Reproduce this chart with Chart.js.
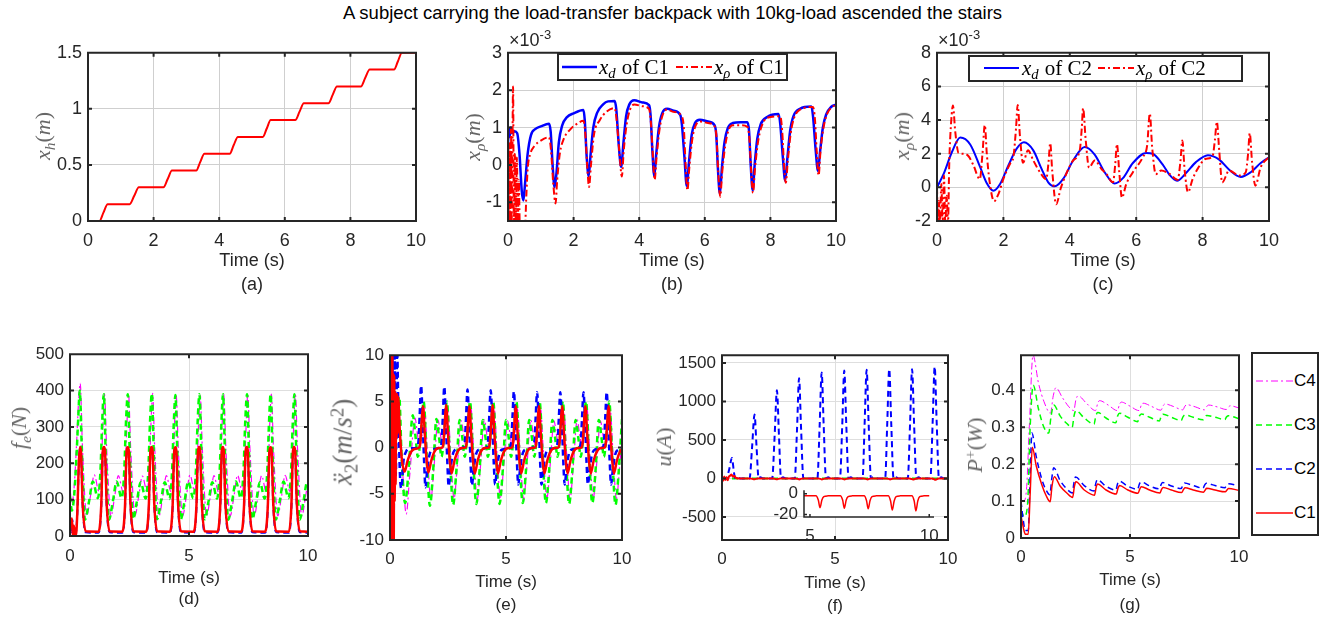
<!DOCTYPE html>
<html>
<head>
<meta charset="utf-8">
<title>Load-transfer backpack, stairs</title>
<script src="https://cdn.jsdelivr.net/npm/chart.js@4.4.1/dist/chart.umd.min.js"></script>
<style>
body { margin:0; background:#fff; width:1340px; height:623px; position:relative; overflow:hidden; font-family:"Liberation Sans", Arial, sans-serif; }
canvas { position:absolute; }
.ttl { position:absolute; left:0; width:1345px; top:2px; text-align:center; font-size:18.5px; line-height:22px; color:#000; }
.yl { position:absolute; transform:translate(-50%,-50%) rotate(-90deg); white-space:nowrap; font-family:"Liberation Serif", serif; font-size:22px; color:#666; line-height:1; }
.sb { font-size:70%; position:relative; top:0.3em; }
.sp { font-size:70%; position:relative; top:-0.45em; }
.exp { position:absolute; font-size:18px; color:#262626; line-height:20px; white-space:nowrap; }
.leg { position:absolute; box-sizing:border-box; border:2px solid #262626; background:#fff; }
.leg span { position:absolute; white-space:nowrap; }
.leg span span { position:relative; }
.leg svg { position:absolute; left:0; top:0; }
.lserif { font-family:"Liberation Serif", serif; font-size:21px; color:#000; }
.lsans { font-size:17px; color:#000; }
.gap { margin-left:6px; }
</style>
</head>
<body>
<div class="ttl">A subject carrying the load-transfer backpack with 10kg-load ascended the stairs</div>
<script>
// ---- data ----
// (a) x_h
const xhA = [[0,0],[0.35,0],[0.47,0.075],[0.6,0.15],[1.27,0.15],[1.41,0.225],[1.55,0.3],[2.3,0.3],[2.43,0.375],[2.56,0.45],
  [3.3,0.45],[3.42,0.525],[3.55,0.6],[4.32,0.6],[4.44,0.675],[4.57,0.75],[5.33,0.75],[5.45,0.825],[5.57,0.9],[6.32,0.9],
  [6.45,0.975],[6.58,1.05],[7.33,1.05],[7.46,1.125],[7.59,1.2],[8.32,1.2],[8.45,1.275],[8.59,1.35],[9.33,1.35],[9.45,1.425],[9.57,1.5],[10,1.5]];

// (b) C1, values in 1e-3 m
const xdC1 = [[0,0.5],[0.02,1.0],[0.05,0.75],[0.08,1.0],[0.12,0.85],[0.2,0.9],[0.28,0.85],[0.35,0.3],[0.42,-0.7],[0.47,-0.95],[0.52,-0.5],
  [0.6,0.3],[0.7,0.8],[0.85,0.97],[1.0,1.03],[1.25,1.1],[1.3,0.9],[1.36,0.0],[1.42,-0.6],[1.48,-0.2],[1.55,0.6],[1.65,1.05],[1.8,1.28],
  [2.0,1.38],[2.3,1.47],[2.34,1.2],[2.4,0.2],[2.46,-0.3],[2.52,0.3],[2.6,1.0],[2.72,1.4],[2.9,1.62],[3.05,1.7],[3.25,1.71],[3.3,1.5],
  [3.38,0.5],[3.45,-0.05],[3.52,0.6],[3.6,1.3],[3.7,1.62],[3.85,1.73],[4.1,1.67],[4.3,1.6],[4.35,1.3],[4.4,0.4],[4.46,-0.3],[4.52,0.3],
  [4.6,1.0],[4.7,1.38],[4.85,1.5],[5.05,1.45],[5.25,1.34],[5.3,1.1],[5.38,0.2],[5.45,-0.56],[5.52,0.1],[5.6,0.8],[5.7,1.12],[5.85,1.21],
  [6.1,1.16],[6.3,1.06],[6.35,0.8],[6.4,-0.1],[6.46,-0.77],[6.52,-0.1],[6.6,0.6],[6.7,0.98],[6.85,1.12],[7.1,1.14],[7.3,1.14],[7.35,0.9],
  [7.4,0.0],[7.46,-0.68],[7.52,0.0],[7.6,0.7],[7.7,1.08],[7.9,1.28],[8.25,1.36],[8.3,1.1],[8.38,0.2],[8.45,-0.42],[8.52,0.2],[8.6,0.9],
  [8.7,1.3],[8.9,1.5],[9.25,1.56],[9.3,1.3],[9.38,0.4],[9.45,-0.16],[9.52,0.4],[9.6,1.0],[9.7,1.35],[9.85,1.55],[10,1.61]];
const xrC1 = [[0,0],[0.02,-1.6],[0.04,0.6],[0.06,-1.6],[0.09,1.0],[0.11,-1.6],[0.13,0.0],[0.155,2.1],[0.18,-1.6],[0.21,0.3],[0.24,-1.6],
  [0.27,0.2],[0.3,-1.6],[0.33,-0.4],[0.36,-1.6],[0.45,-1.6],[0.52,-1.6],[0.56,-0.8],[0.6,-0.1],[0.68,0.3],[0.8,0.5],[1.0,0.65],[1.25,0.74],
  [1.31,0.4],[1.38,-0.5],[1.45,-1.03],[1.5,-0.4],[1.58,0.3],[1.7,0.7],[1.9,0.95],[2.1,1.1],[2.3,1.18],[2.36,0.8],[2.42,-0.1],[2.47,-0.59],
  [2.53,0.0],[2.62,0.8],[2.8,1.2],[3.0,1.42],[3.25,1.52],[3.3,1.3],[3.4,0.3],[3.47,-0.31],[3.53,0.4],[3.62,1.1],[3.72,1.48],[3.85,1.62],
  [4.1,1.57],[4.3,1.5],[4.36,1.1],[4.42,0.2],[4.47,-0.4],[4.53,0.2],[4.62,0.95],[4.72,1.35],[4.85,1.48],[5.05,1.42],[5.3,1.3],[5.36,1.0],
  [5.41,0.1],[5.47,-0.68],[5.53,-0.05],[5.62,0.7],[5.72,1.05],[5.87,1.16],[6.1,1.12],[6.3,1.03],[6.36,0.7],[6.41,-0.2],[6.47,-0.85],
  [6.53,-0.2],[6.62,0.5],[6.72,0.92],[6.85,1.06],[7.1,1.06],[7.3,1.02],[7.36,0.7],[7.41,-0.1],[7.47,-0.75],[7.53,-0.1],[7.62,0.6],
  [7.72,1.0],[7.9,1.26],[8.3,1.3],[8.36,0.9],[8.41,0.1],[8.47,-0.48],[8.53,0.1],[8.62,0.85],[8.72,1.25],[8.9,1.48],[9.3,1.55],[9.36,1.2],
  [9.41,0.4],[9.47,-0.28],[9.53,0.4],[9.62,1.0],[9.72,1.35],[9.88,1.55],[10,1.6]];

// (c) C2, values in 1e-3 m
const xdC2 = [[0,0],[0.2,0.8],[0.45,2.1],[0.7,2.96],[1.0,2.55],[1.3,1.2],[1.5,0.25],[1.7,-0.2],[1.9,0.2],[2.15,1.3],[2.4,2.3],[2.62,2.68],
  [2.9,2.2],[3.15,1.1],[3.35,0.3],[3.55,0.06],[3.8,0.5],[4.1,1.6],[4.45,2.4],[4.75,1.95],[5.05,0.9],[5.35,0.23],[5.6,0.55],[5.9,1.45],
  [6.3,2.05],[6.5,2.0],[6.8,1.35],[7.0,0.75],[7.23,0.39],[7.5,0.85],[7.8,1.5],[8.16,1.91],[8.5,1.65],[8.8,1.05],[9.15,0.62],[9.45,0.9],[9.75,1.45],[10,1.79]];
const xrC2 = [[0,0],[0.03,-2.2],[0.06,-0.8],[0.09,-2.2],[0.13,0.2],[0.17,-2.2],[0.21,0.7],[0.25,-2.2],[0.29,-0.5],[0.33,-2.2],[0.37,1.5],
  [0.43,4.0],[0.48,4.87],[0.55,3.3],[0.65,2.05],[0.8,2.0],[0.95,1.85],[1.1,1.3],[1.29,0.49],[1.37,2.0],[1.44,3.7],[1.5,2.0],[1.58,0.4],
  [1.72,-0.82],[1.85,-0.4],[2.0,0.5],[2.2,1.4],[2.3,1.8],[2.38,3.5],[2.43,4.9],[2.5,3.0],[2.59,1.46],[2.74,2.2],[2.9,1.6],[3.1,0.9],
  [3.29,0.49],[3.36,1.5],[3.41,2.63],[3.47,1.0],[3.59,-1.01],[3.72,-0.1],[3.85,0.6],[4.1,1.6],[4.3,2.2],[4.36,3.5],[4.4,4.7],[4.48,2.8],
  [4.58,1.17],[4.75,1.6],[4.95,1.1],[5.1,0.8],[5.3,0.3],[5.37,1.4],[5.42,2.57],[5.49,0.9],[5.57,-0.62],[5.7,0.2],[5.9,0.9],[6.2,1.8],
  [6.33,2.5],[6.41,4.39],[6.48,2.4],[6.59,0.78],[6.75,1.0],[7.0,0.8],[7.25,0.45],[7.33,1.5],[7.39,2.79],[7.46,1.0],[7.56,-0.29],[7.7,0.5],
  [7.85,1.1],[8.1,1.7],[8.3,1.85],[8.37,2.8],[8.43,3.9],[8.5,2.2],[8.59,0.29],[8.8,1.0],[9.1,0.7],[9.3,0.9],[9.37,2.0],[9.42,3.22],
  [9.49,1.5],[9.59,0.1],[9.75,1.2],[10,1.8]];

// (d) f_e (N)
const feC1 = [[0,50],[0.04,25],[0.08,48],[0.12,0],[0.16,28],[0.2,8],[0.25,2],[0.31,70],[0.37,200],[0.42,245],[0.46,235],[0.53,90],[0.66,13],
  [1.2,12],[1.31,80],[1.38,235],[1.43,245],[1.47,235],[1.54,90],[1.66,13],[2.2,12],[2.31,80],[2.38,235],[2.43,244],[2.47,234],[2.54,90],[2.66,13],
  [3.2,12],[3.31,80],[3.38,235],[3.43,245],[3.47,235],[3.54,90],[3.66,13],[4.2,12],[4.31,80],[4.38,234],[4.43,244],[4.47,234],[4.54,90],[4.66,13],
  [5.2,12],[5.31,80],[5.38,235],[5.43,245],[5.47,235],[5.54,90],[5.66,13],[6.2,12],[6.31,80],[6.38,235],[6.42,245],[6.46,235],[6.53,90],[6.66,13],
  [7.2,12],[7.31,80],[7.38,235],[7.43,245],[7.47,235],[7.54,90],[7.66,13],[8.2,12],[8.31,80],[8.38,234],[8.43,244],[8.47,234],[8.54,90],[8.66,13],
  [9.2,12],[9.3,80],[9.37,235],[9.42,245],[9.46,235],[9.53,90],[9.66,13],[10,12]];
const feC2 = [[0,40],[0.05,10],[0.1,45],[0.15,5],[0.22,3],[0.31,65],[0.37,195],[0.42,240],[0.46,230],[0.53,85],[0.66,10],
  [1.2,9],[1.31,72],[1.38,228],[1.43,240],[1.47,228],[1.54,84],[1.66,10],[2.2,9],[2.31,72],[2.38,228],[2.43,240],[2.47,228],[2.54,84],[2.66,10],
  [3.2,9],[3.31,72],[3.38,228],[3.43,240],[3.47,228],[3.54,84],[3.66,10],[4.2,9],[4.31,72],[4.38,228],[4.43,239],[4.47,228],[4.54,84],[4.66,10],
  [5.2,9],[5.31,72],[5.38,228],[5.43,240],[5.47,228],[5.54,84],[5.66,10],[6.2,9],[6.31,72],[6.38,228],[6.42,240],[6.46,228],[6.53,84],[6.66,10],
  [7.2,9],[7.31,72],[7.38,228],[7.43,240],[7.47,228],[7.54,84],[7.66,10],[8.2,9],[8.31,72],[8.38,228],[8.43,239],[8.47,228],[8.54,84],[8.66,10],
  [9.2,9],[9.3,72],[9.37,228],[9.42,240],[9.46,228],[9.53,84],[9.66,10],[10,9]];
const feC3 = [[0,110],[0.08,70],[0.18,115],[0.28,230],[0.35,330],[0.41,400],[0.5,230],[0.63,45],[0.8,95],[0.96,150],[1.17,104],[1.28,180],[1.35,310],[1.42,390],
  [1.5,230],[1.64,45],[1.8,95],[1.96,150],[2.17,104],[2.28,180],[2.35,310],[2.43,390],
  [2.51,230],[2.65,46],[2.81,95],[2.97,148],[3.18,103],[3.29,180],[3.36,310],[3.44,392],
  [3.52,230],[3.66,46],[3.82,95],[3.98,148],[4.18,102],[4.29,180],[4.36,310],[4.43,388],
  [4.51,230],[4.65,45],[4.81,95],[4.97,150],[5.18,104],[5.29,180],[5.36,310],[5.44,390],
  [5.52,230],[5.66,46],[5.82,95],[5.98,148],[6.18,103],[6.29,180],[6.36,310],[6.43,390],
  [6.51,230],[6.65,45],[6.81,95],[6.97,150],[7.18,104],[7.29,180],[7.36,310],[7.44,390],
  [7.52,230],[7.66,46],[7.82,95],[7.98,148],[8.18,103],[8.29,180],[8.36,310],[8.43,390],
  [8.51,230],[8.65,45],[8.81,95],[8.97,150],[9.18,104],[9.29,180],[9.36,310],[9.43,390],
  [9.51,230],[9.65,45],[9.81,95],[9.97,150],[10,149]];
const feC4 = [[0,130],[0.08,90],[0.18,140],[0.28,260],[0.36,370],[0.43,420],[0.52,250],[0.7,55],[0.86,110],[1.02,168],[1.22,122],[1.32,200],[1.39,320],[1.45,390],
  [1.54,240],[1.72,55],[1.88,110],[2.03,166],[2.23,122],[2.33,200],[2.4,320],[2.46,390],
  [2.55,240],[2.73,56],[2.89,110],[3.04,165],[3.24,121],[3.34,200],[3.41,320],[3.47,392],
  [3.56,240],[3.74,55],[3.9,110],[4.05,166],[4.24,122],[4.34,200],[4.4,320],[4.46,388],
  [4.55,240],[4.73,55],[4.89,110],[5.04,168],[5.24,122],[5.34,200],[5.41,320],[5.47,390],
  [5.56,240],[5.74,56],[5.9,110],[6.05,166],[6.24,121],[6.34,200],[6.4,320],[6.46,390],
  [6.55,240],[6.73,55],[6.89,110],[7.04,167],[7.24,122],[7.34,200],[7.41,320],[7.47,390],
  [7.56,240],[7.74,55],[7.9,110],[8.05,166],[8.24,122],[8.34,200],[8.4,320],[8.46,390],
  [8.55,240],[8.73,55],[8.89,110],[9.04,167],[9.24,122],[9.34,200],[9.41,320],[9.47,388],
  [9.56,240],[9.74,55],[9.9,110],[10,150]];

// (e) x2 acceleration (m/s^2)
const acC1 = [[0,0],[0.02,10.5],[0.04,-10.5],[0.06,10.5],[0.08,-10.5],[0.1,10.5],[0.12,-10.5],[0.14,8],[0.16,-10.5],[0.18,7.8],[0.2,-5.8],
  [0.22,6],[0.24,-4],[0.26,5.8],[0.28,1],[0.3,5.8],[0.32,1.5],[0.35,5.5],[0.42,2],[0.5,-1],[0.63,-2.6],[0.75,-1.5],[0.9,-0.5],[1.05,-0.15],[1.25,0],
  [1.3,0.4],[1.36,2.6],[1.42,4.5],[1.5,1.5],[1.58,-1.5],[1.65,-2.7],[1.78,-1.4],[1.92,-0.4],[2.1,-0.05],[2.25,0],
  [2.3,0.4],[2.36,2.6],[2.42,4.6],[2.5,1.5],[2.58,-1.5],[2.65,-2.8],[2.78,-1.4],[2.92,-0.4],[3.1,-0.05],[3.25,0],
  [3.3,0.4],[3.36,2.6],[3.42,4.5],[3.5,1.5],[3.58,-1.5],[3.65,-2.8],[3.78,-1.4],[3.92,-0.4],[4.1,-0.05],[4.25,0],
  [4.3,0.4],[4.36,2.6],[4.42,4.6],[4.5,1.5],[4.58,-1.5],[4.65,-2.8],[4.78,-1.4],[4.92,-0.4],[5.1,-0.05],[5.25,0],
  [5.3,0.4],[5.36,2.6],[5.42,4.5],[5.5,1.5],[5.58,-1.5],[5.65,-2.8],[5.78,-1.4],[5.92,-0.4],[6.1,-0.05],[6.25,0],
  [6.3,0.4],[6.36,2.6],[6.42,4.5],[6.5,1.5],[6.58,-1.5],[6.65,-2.8],[6.78,-1.4],[6.92,-0.4],[7.1,-0.05],[7.25,0],
  [7.3,0.4],[7.36,2.6],[7.42,4.5],[7.5,1.5],[7.58,-1.5],[7.65,-2.8],[7.78,-1.4],[7.92,-0.4],[8.1,-0.05],[8.25,0],
  [8.3,0.4],[8.36,2.6],[8.42,4.5],[8.5,1.5],[8.58,-1.5],[8.65,-2.8],[8.78,-1.4],[8.92,-0.4],[9.1,-0.05],[9.25,0],
  [9.3,0.4],[9.36,2.6],[9.42,4.5],[9.5,1.5],[9.58,-1.5],[9.65,-2.8],[9.78,-1.4],[9.92,-0.4],[10,-0.2]];
const acC2 = [[0,0],[0.05,-10.5],[0.1,10.5],[0.15,-10.5],[0.2,10.5],[0.25,-3],[0.31,10.5],[0.36,4],[0.43,-3],[0.49,-4.4],[0.58,-1.5],[0.7,-0.4],[0.85,-0.1],[1.15,0],
  [1.22,0.5],[1.28,3.5],[1.34,6.7],[1.4,3.5],[1.47,-1.5],[1.53,-4.3],[1.6,-2.5],[1.7,-0.8],[1.85,-0.2],[2.15,0],
  [2.22,0.5],[2.28,3.5],[2.34,6.6],[2.4,3.5],[2.47,-1.5],[2.53,-4.2],[2.6,-2.5],[2.7,-0.8],[2.85,-0.2],[3.15,0],
  [3.22,0.5],[3.28,3.4],[3.34,6.3],[3.4,3.4],[3.47,-1.5],[3.53,-4.1],[3.6,-2.5],[3.7,-0.8],[3.85,-0.2],[4.15,0],
  [4.22,0.5],[4.28,3.4],[4.34,6.2],[4.4,3.4],[4.47,-1.5],[4.53,-4.0],[4.6,-2.5],[4.7,-0.8],[4.85,-0.2],[5.15,0],
  [5.22,0.5],[5.28,3.3],[5.34,6.1],[5.4,3.3],[5.47,-1.5],[5.53,-4.0],[5.6,-2.5],[5.7,-0.8],[5.85,-0.2],[6.15,0],
  [6.22,0.5],[6.28,3.3],[6.34,6.0],[6.4,3.3],[6.47,-1.5],[6.53,-4.0],[6.6,-2.5],[6.7,-0.8],[6.85,-0.2],[7.15,0],
  [7.22,0.5],[7.28,3.3],[7.34,6.0],[7.4,3.3],[7.47,-1.5],[7.53,-4.0],[7.6,-2.5],[7.7,-0.8],[7.85,-0.2],[8.15,0],
  [8.22,0.5],[8.28,3.3],[8.34,6.0],[8.4,3.3],[8.47,-1.5],[8.53,-4.0],[8.6,-2.5],[8.7,-0.8],[8.85,-0.2],[9.15,0],
  [9.22,0.5],[9.28,3.3],[9.34,6.0],[9.4,3.3],[9.47,-1.5],[9.53,-4.0],[9.6,-2.5],[9.7,-0.8],[9.85,-0.2],[10,-0.1]];
const acC3 = [[0,0],[0.1,-3],[0.2,2],[0.3,4],[0.4,5.5],[0.5,-1],[0.65,-6],[0.8,-2.5],[0.98,3.5],[1.1,1.2],[1.2,-1],
  [1.32,1],[1.45,5],[1.58,-1],[1.72,-6.3],[1.86,-2.5],[2.0,3.1],[2.12,1],[2.22,-1],
  [2.32,1],[2.45,5],[2.58,-1],[2.72,-6.2],[2.86,-2.5],[3.0,3.0],[3.12,1],[3.22,-1],
  [3.32,1],[3.45,5],[3.58,-1],[3.72,-6.1],[3.86,-2.5],[4.0,3.0],[4.12,1],[4.22,-1],
  [4.32,1],[4.45,5],[4.58,-1],[4.72,-6.1],[4.86,-2.5],[5.0,3.0],[5.12,1],[5.22,-1],
  [5.32,1],[5.45,5],[5.58,-1],[5.72,-6.0],[5.86,-2.5],[6.0,3.0],[6.12,1],[6.22,-1],
  [6.32,1],[6.45,5],[6.58,-1],[6.72,-6.0],[6.86,-2.5],[7.0,3.0],[7.12,1],[7.22,-1],
  [7.32,1],[7.45,5],[7.58,-1],[7.72,-6.1],[7.86,-2.5],[8.0,3.0],[8.12,1],[8.22,-1],
  [8.32,1],[8.45,5],[8.58,-1],[8.72,-6.0],[8.86,-2.5],[9.0,3.0],[9.12,1],[9.22,-1],
  [9.32,1],[9.45,5],[9.58,-1],[9.72,-6.2],[9.86,-2.5],[10,3.1]];
const acC4 = [[0,0],[0.1,2],[0.2,3.5],[0.32,5],[0.45,2],[0.58,-4],[0.7,-7.2],[0.85,-3],[1.08,3.2],[1.18,1.5],[1.27,0.2],
  [1.37,1],[1.49,4.4],[1.62,-1],[1.76,-5.6],[1.9,-2],[2.07,3.0],[2.17,1.5],[2.27,0.2],
  [2.37,1],[2.49,4.3],[2.62,-1],[2.76,-5.5],[2.9,-2],[3.07,2.9],[3.17,1.5],[3.27,0.2],
  [3.37,1],[3.49,4.3],[3.62,-1],[3.76,-5.6],[3.9,-2],[4.07,3.0],[4.17,1.5],[4.27,0.2],
  [4.37,1],[4.49,4.3],[4.62,-1],[4.76,-5.5],[4.9,-2],[5.07,2.9],[5.17,1.5],[5.27,0.2],
  [5.37,1],[5.49,4.2],[5.62,-1],[5.76,-5.6],[5.9,-2],[6.07,3.0],[6.17,1.5],[6.27,0.2],
  [6.37,1],[6.49,4.2],[6.62,-1],[6.76,-5.5],[6.9,-2],[7.07,2.9],[7.17,1.5],[7.27,0.2],
  [7.37,1],[7.49,4.2],[7.62,-1],[7.76,-5.6],[7.9,-2],[8.07,3.0],[8.17,1.5],[8.27,0.2],
  [8.37,1],[8.49,4.2],[8.62,-1],[8.76,-5.5],[8.9,-2],[9.07,2.9],[9.17,1.5],[9.27,0.2],
  [9.37,1],[9.49,4.2],[9.62,-1],[9.76,-5.5],[9.9,-2],[10,1]];

// (f) u (A)
const uC1 = [[0,0],[0.05,-30],[0.1,25],[0.15,-20],[0.2,15],[0.25,-25],[0.3,20],[0.36,35],[0.42,50],[0.48,25],[0.55,30],[0.62,5],[0.8,-2],
  [1.25,-1.8],[1.35,-6],[1.42,-12],[1.5,-6],[1.58,-2.8],[1.75,-2],[2.25,-1.8],[2.35,-6],[2.42,-12.5],[2.5,-6],[2.58,-2.8],[2.75,-2],
  [3.25,-1.8],[3.35,-6],[3.42,-13],[3.5,-6],[3.58,-2.8],[3.75,-2],[4.25,-1.8],[4.35,-6],[4.42,-13],[4.5,-6],[4.58,-2.8],[4.75,-2],
  [5.25,-1.8],[5.35,-6],[5.42,-13.4],[5.5,-6],[5.58,-2.8],[5.75,-2],[6.27,-1.8],[6.37,-6],[6.44,-14],[6.52,-6],[6.6,-2.8],[6.77,-2],
  [7.27,-1.8],[7.37,-6.5],[7.44,-14.5],[7.52,-6.5],[7.6,-2.8],[7.77,-2],[8.28,-1.8],[8.38,-7],[8.45,-15.8],[8.53,-7],[8.61,-2.8],[8.78,-2],
  [9.27,-1.8],[9.37,-7],[9.44,-16.6],[9.52,-7],[9.6,-2.8],[9.77,-2],[10,-1.9]];
const uC2 = [[0,0],[0.2,5],[0.32,120],[0.44,265],[0.52,100],[0.58,0],[0.7,10],[0.8,0],
  [1.22,0],[1.33,400],[1.44,830],[1.53,400],[1.62,0],[1.7,15],[1.8,0],
  [2.22,0],[2.33,560],[2.43,1145],[2.52,560],[2.61,0],[2.7,15],[2.8,0],
  [3.22,0],[3.32,640],[3.41,1300],[3.5,640],[3.6,0],[3.7,15],[3.8,0],
  [4.22,0],[4.32,680],[4.41,1375],[4.5,680],[4.6,0],[4.7,15],[4.8,0],
  [5.22,0],[5.32,690],[5.41,1400],[5.5,690],[5.6,0],[5.7,15],[5.8,0],
  [6.22,0],[6.31,700],[6.4,1410],[6.49,700],[6.59,0],[6.7,15],[6.8,0],
  [7.22,0],[7.31,700],[7.4,1420],[7.49,700],[7.59,0],[7.7,15],[7.8,0],
  [8.22,0],[8.32,700],[8.41,1418],[8.5,700],[8.6,0],[8.7,15],[8.8,0],
  [9.22,0],[9.32,720],[9.41,1450],[9.5,720],[9.6,0],[9.7,15],[9.8,0],[10,0]];
const uC3 = [[0,0],[10,0]];
const uC4 = [[0,0],[10,0]];

// (g) P+ (W)
const pC1 = [[0,0.06],[0.1,0.03],[0.2,0.01],[0.33,0.01],[0.42,0.12],[0.52,0.246],[0.7,0.195],[0.95,0.145],[1.15,0.115],[1.34,0.098],
  [1.42,0.14],[1.53,0.166],[1.8,0.14],[2.1,0.122],[2.37,0.11],[2.45,0.14],[2.52,0.152],[2.9,0.13],[3.37,0.116],[3.45,0.138],[3.51,0.146],
  [3.9,0.13],[4.37,0.119],[4.45,0.135],[4.52,0.142],[4.9,0.13],[5.37,0.121],[5.45,0.133],[5.52,0.139],[5.9,0.13],[6.37,0.122],[6.45,0.132],
  [6.52,0.137],[6.9,0.13],[7.37,0.123],[7.45,0.131],[7.52,0.136],[7.9,0.13],[8.37,0.124],[8.45,0.13],[8.52,0.135],[8.9,0.13],[9.37,0.125],
  [9.45,0.13],[9.52,0.134],[10,0.129]];
const pC2 = [[0,0.1],[0.1,0.05],[0.2,0.02],[0.33,0.02],[0.42,0.17],[0.5,0.284],[0.7,0.22],[0.95,0.16],[1.15,0.13],[1.32,0.117],[1.42,0.165],
  [1.5,0.19],[1.8,0.155],[2.1,0.133],[2.35,0.122],[2.43,0.15],[2.5,0.165],[2.9,0.142],[3.35,0.127],[3.43,0.148],[3.5,0.158],[3.9,0.14],
  [4.35,0.13],[4.43,0.147],[4.5,0.154],[4.9,0.14],[5.35,0.132],[5.43,0.146],[5.5,0.152],[5.9,0.141],[6.35,0.133],[6.43,0.145],[6.5,0.15],
  [6.9,0.141],[7.35,0.134],[7.43,0.144],[7.5,0.149],[7.9,0.142],[8.35,0.135],[8.43,0.144],[8.5,0.148],[8.9,0.142],[9.35,0.136],[9.43,0.143],
  [9.5,0.147],[10,0.141]];
const pC3 = [[0,0.075],[0.15,0.058],[0.3,0.09],[0.42,0.3],[0.56,0.414],[0.8,0.35],[1.05,0.3],[1.27,0.284],[1.38,0.33],[1.5,0.36],[1.8,0.33],
  [2.1,0.31],[2.35,0.3],[2.43,0.33],[2.52,0.345],[2.9,0.325],[3.35,0.308],[3.43,0.33],[3.52,0.34],[3.9,0.325],[4.35,0.312],[4.43,0.33],
  [4.52,0.338],[4.9,0.327],[5.35,0.315],[5.43,0.33],[5.52,0.336],[5.9,0.327],[6.35,0.317],[6.43,0.329],[6.52,0.335],[6.9,0.327],[7.35,0.318],
  [7.43,0.328],[7.52,0.333],[7.9,0.327],[8.35,0.32],[8.43,0.328],[8.52,0.332],[8.9,0.327],[9.35,0.321],[9.43,0.328],[9.52,0.331],[10,0.323]];
const pC4 = [[0,0.1],[0.12,0.1],[0.25,0.13],[0.38,0.3],[0.55,0.495],[0.8,0.42],[1.05,0.37],[1.35,0.338],[1.48,0.385],[1.6,0.407],[1.9,0.38],
  [2.2,0.355],[2.42,0.345],[2.52,0.375],[2.62,0.385],[3.0,0.365],[3.42,0.345],[3.52,0.365],[3.6,0.372],[4.0,0.36],[4.42,0.345],[4.52,0.362],
  [4.6,0.368],[5.0,0.357],[5.42,0.345],[5.52,0.36],[5.6,0.365],[6.0,0.356],[6.42,0.346],[6.52,0.358],[6.6,0.363],[7.0,0.356],[7.42,0.347],
  [7.52,0.357],[7.6,0.361],[8.0,0.355],[8.42,0.347],[8.52,0.356],[8.6,0.36],[9.0,0.355],[9.42,0.348],[9.52,0.355],[9.6,0.358],[10,0.352]];

// tick values
const tick10by2 = [0, 2, 4, 6, 8, 10];
const tick10by5 = [0, 5, 10];
const ticksA = [0, 0.5, 1, 1.5];
const ticksB = [-1, 0, 1, 2, 3];
const ticksC = [-2, 0, 2, 4, 6, 8];
const ticksD = [0, 100, 200, 300, 400, 500];
const ticksE = [-10, -5, 0, 5, 10];
const ticksF = [-500, 0, 500, 1000, 1500];
const ticksG = [0, 0.1, 0.2, 0.3, 0.4];
const ticksInsetX = [5, 10];
const ticksInsetY = [-20, 0];

// ---- drawing ----
const FONT = '"Liberation Sans", Arial, sans-serif';
const INK = '#262626';
const RED = '#ff0000', BLUE = '#0000ff', GREEN = '#00ff00', MAG = '#ff00ff';
const DASH = [6, 4], DASHDOT = [7, 3, 2, 3];

// matlab style box with inward ticks
const boxPlugin = {
  id: 'mbox',
  beforeDraw(chart, args, o) {
    if (!o.fill) return;
    const a = chart.chartArea, ctx = chart.ctx;
    ctx.save();
    ctx.fillStyle = o.fill;
    ctx.fillRect(a.left, a.top, a.right - a.left, a.bottom - a.top);
    ctx.restore();
  },
  afterDraw(chart, args, o) {
    const {ctx, chartArea: a, scales} = chart;
    const tl = o.tick;
    ctx.save();
    ctx.strokeStyle = INK;
    ctx.lineWidth = o.lw;
    ctx.beginPath();
    scales.x.ticks.forEach(t => {
      const px = scales.x.getPixelForValue(t.value);
      ctx.moveTo(px, a.bottom); ctx.lineTo(px, a.bottom - tl);
      if (o.full) { ctx.moveTo(px, a.top); ctx.lineTo(px, a.top + tl); }
    });
    scales.y.ticks.forEach(t => {
      const py = scales.y.getPixelForValue(t.value);
      ctx.moveTo(a.left, py); ctx.lineTo(a.left + tl, py);
      if (o.full) { ctx.moveTo(a.right, py); ctx.lineTo(a.right - tl, py); }
    });
    if (o.full) {
      ctx.rect(a.left, a.top, a.right - a.left, a.bottom - a.top);
    } else {
      ctx.moveTo(a.left, a.top); ctx.lineTo(a.left, a.bottom); ctx.lineTo(a.right, a.bottom);
    }
    ctx.stroke();
    ctx.restore();
  }
};

function series(arr, color, width, dash) {
  return {
    data: arr.map(p => ({x: p[0], y: p[1]})),
    borderColor: color, borderWidth: width, borderDash: dash || [],
    pointRadius: 0, fill: false, cubicInterpolationMode: 'monotone', clip: 0
  };
}

function panel(box, o) {
  const YW = o.yw || 80, PT = o.pt || 14, PR = o.pr || 24, XH = o.xh || 80;
  const w = box[2] - box[0] + YW + PR, h = box[3] - box[1] + PT + XH;
  const cv = document.createElement('canvas');
  cv.width = w; cv.height = h;
  cv.style.left = (box[0] - YW) + 'px';
  cv.style.top = (box[1] - PT) + 'px';
  cv.style.width = w + 'px';
  cv.style.height = h + 'px';
  document.body.appendChild(cv);
  const tickFont = {family: FONT, size: o.fs};
  const grid = {display: o.grid !== false, color: o.gc || '#dedede', lineWidth: 1, drawTicks: false};
  return new Chart(cv, {
    type: 'line',
    data: {datasets: o.sets},
    options: {
      responsive: false, animation: false, devicePixelRatio: 1,
      layout: {padding: {left: 0, top: PT, right: PR, bottom: 0}},
      plugins: {
        legend: {display: false}, tooltip: {enabled: false},
        mbox: {full: o.full !== false, fill: o.fill, tick: o.tl || 4, lw: o.lw || 2}
      },
      scales: {
        x: {
          type: 'linear', min: o.x[0], max: o.x[1],
          afterFit: s => { s.height = XH; },
          afterBuildTicks: s => { s.ticks = o.xt.map(v => ({value: v})); },
          grid: grid, border: {display: false},
          ticks: {color: INK, font: tickFont, padding: o.xp || 9, maxRotation: 0, autoSkip: false, callback: v => String(v)},
          title: o.cap ? {
            display: true, text: ['Time (s)', o.cap], color: INK,
            font: {family: FONT, size: o.fs, lineHeight: o.lh + 'px'},
            padding: {top: 0, bottom: o.pb}
          } : {display: false}
        },
        y: {
          type: 'linear', min: o.y[0], max: o.y[1],
          afterFit: s => { s.width = YW; },
          afterBuildTicks: s => { s.ticks = o.yt.map(v => ({value: v})); },
          grid: grid, border: {display: false},
          ticks: {color: INK, font: tickFont, padding: 6, callback: v => String(v)}
        }
      }
    },
    plugins: [boxPlugin]
  });
}

const TOPGRID = '#cfcfcf', BOTGRID = '#dedede';

panel([88, 50, 416, 221], {fs: 18, gc: TOPGRID, x: [0, 10], xt: tick10by2, y: [0, 1.5], yt: ticksA,
  cap: '(a)', lh: 24, pb: 4, sets: [series(xhA, RED, 2)]});
panel([508, 50, 836, 221], {fs: 18, gc: TOPGRID, x: [0, 10], xt: tick10by2, y: [-1.5, 3], yt: ticksB,
  cap: '(b)', lh: 24, pb: 4, sets: [series(xrC1, RED, 2, DASHDOT), series(xdC1, BLUE, 2.5)]});
panel([937, 50, 1269, 221], {fs: 18, gc: TOPGRID, x: [0, 10], xt: tick10by2, y: [-2, 8], yt: ticksC,
  cap: '(c)', lh: 24, pb: 4, sets: [series(xrC2, RED, 2, DASHDOT), series(xdC2, BLUE, 2)]});

panel([70, 352, 308, 536], {fs: 17, gc: BOTGRID, x: [0, 10], xt: tick10by5, y: [0, 500], yt: ticksD,
  cap: '(d)', lh: 21, pb: 6, xp: 10,
  sets: [series(feC1, RED, 2.5), series(feC2, BLUE, 2, DASH), series(feC3, GREEN, 2.5, DASH), series(feC4, MAG, 1.2, DASHDOT)]});
panel([390, 353, 622, 540], {fs: 17, gc: BOTGRID, x: [0, 10], xt: tick10by5, y: [-10, 10], yt: ticksE,
  cap: '(e)', lh: 23, pb: 3,
  sets: [series(acC1, RED, 2.5), series(acC2, BLUE, 2.5, DASH), series(acC3, GREEN, 2.5, DASH), series(acC4, MAG, 1.2, DASHDOT)]});
panel([722, 353, 948, 540], {fs: 17, gc: BOTGRID, x: [0, 10], xt: tick10by5, y: [-800, 1600], yt: ticksF,
  cap: '(f)', lh: 23, pb: 2,
  sets: [series(uC1, RED, 2), series(uC2, BLUE, 2, DASH), series(uC3, GREEN, 2, DASH), series(uC4, MAG, 1, DASHDOT)]});
panel([804, 484, 934, 517], {fs: 17, grid: false, full: false, fill: '#ffffff', yw: 50, pt: 10, pr: 20, xh: 30, tl: 3, lw: 1.5,
  x: [4.75, 10.2], xt: ticksInsetX, y: [-22.5, 3.5], yt: ticksInsetY,
  sets: [series(uC1, RED, 1.5)]});
panel([1021, 353, 1239, 538], {fs: 17, gc: BOTGRID, x: [0, 10], xt: tick10by5, y: [0, 0.495], yt: ticksG,
  cap: '(g)', lh: 25, pb: 0,
  sets: [series(pC1, RED, 1.5), series(pC2, BLUE, 1.5, DASH), series(pC3, GREEN, 1.5, DASH), series(pC4, MAG, 1, DASHDOT)]});

// ---- html labels: y titles, exponents, legends ----
function addHTML(html) {
  const d = document.createElement('div');
  d.innerHTML = html;
  while (d.firstChild) document.body.appendChild(d.firstChild);
}
function ylab(x, y, html, size) {
  addHTML(`<div class="yl" style="left:${x}px;top:${y}px${size ? ';font-size:' + size + 'px' : ''}">${html}</div>`);
}
ylab(43, 136, '<i>x</i><span class="sb"><i>h</i></span>(<i>m</i>)');
ylab(473, 137, '<i>x</i><span class="sb"><i>ρ</i></span>(<i>m</i>)');
ylab(902, 136, '<i>x</i><span class="sb"><i>ρ</i></span>(<i>m</i>)');
ylab(19, 428, '<i>f</i><span class="sb"><i>e</i></span>(<i>N</i>)');
ylab(343, 442, '<i>ẍ</i><span class="sb">2</span>(<i>m</i>/<i>s</i><span class="sp">2</span>)', 27);
ylab(664, 447, '<i>u</i>(<i>A</i>)');
ylab(975, 445, '<i>P</i><span class="sp">+</span>(<i>W</i>)');

addHTML('<div class="exp" style="left:509px;top:30px">×10<span style="font-size:13px;position:relative;top:-7px">-3</span></div>');
addHTML('<div class="exp" style="left:938px;top:30px">×10<span style="font-size:13px;position:relative;top:-7px">-3</span></div>');

function sample(x1, x2, y, color, width, dash) {
  return `<line x1="${x1}" y1="${y}" x2="${x2}" y2="${y}" stroke="${color}" stroke-width="${width}"${dash ? ` stroke-dasharray="${dash.join(' ')}"` : ''}/>`;
}
function lineLegend(left, top, w, h, items) {
  let svg = `<svg width="${w}" height="${h}">`;
  let spans = '';
  items.forEach(it => {
    svg += sample(it.x1, it.x2, it.y, it.color, it.width, it.dash);
    spans += `<span class="${it.cls}" style="left:${it.tx}px;top:${it.y - 12}px;line-height:24px">${it.html}</span>`;
  });
  svg += '</svg>';
  addHTML(`<div class="leg" style="left:${left}px;top:${top}px;width:${w}px;height:${h}px">${svg}${spans}</div>`);
}
lineLegend(557, 53, 231, 28, [
  {x1: 3, x2: 38, y: 12, color: BLUE, width: 2.5, tx: 40, cls: 'lserif', html: '<i>x</i><span class="sb"><i>d</i></span><span class="gap">of C1</span>'},
  {x1: 117, x2: 153, y: 12, color: RED, width: 2, dash: DASHDOT, tx: 155, cls: 'lserif', html: '<i>x</i><span class="sb"><i>ρ</i></span><span class="gap">of C1</span>'}
]);
lineLegend(968, 55, 275, 27, [
  {x1: 14, x2: 49, y: 11, color: BLUE, width: 2, tx: 52, cls: 'lserif', html: '<i>x</i><span class="sb"><i>d</i></span><span class="gap">of C2</span>'},
  {x1: 128, x2: 164, y: 11, color: RED, width: 2, dash: DASHDOT, tx: 166, cls: 'lserif', html: '<i>x</i><span class="sb"><i>ρ</i></span><span class="gap">of C2</span>'}
]);
lineLegend(1251, 352, 68, 184, [
  {x1: 3, x2: 40, y: 27, color: MAG, width: 1, dash: DASHDOT, tx: 41, cls: 'lsans', html: 'C4'},
  {x1: 3, x2: 40, y: 71, color: GREEN, width: 1.5, dash: DASH, tx: 41, cls: 'lsans', html: 'C3'},
  {x1: 3, x2: 40, y: 115, color: BLUE, width: 1.5, dash: DASH, tx: 41, cls: 'lsans', html: 'C2'},
  {x1: 3, x2: 40, y: 159, color: RED, width: 1.5, tx: 41, cls: 'lsans', html: 'C1'}
]);
</script>
</body>
</html>
